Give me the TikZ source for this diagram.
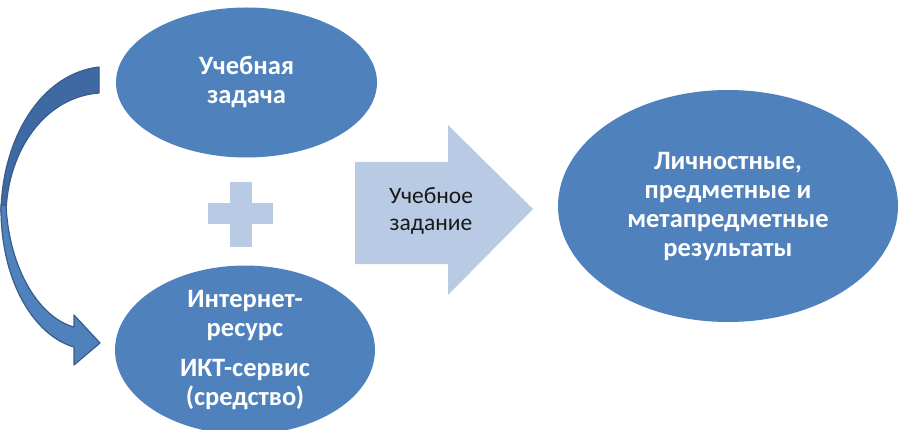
\documentclass[tikz,border=0pt]{standalone}
\usepackage{fontspec}
\setmainfont{Carlito}
\usetikzlibrary{shapes.geometric}
\definecolor{ellblue}{HTML}{4F81BD}
\definecolor{lightblue}{HTML}{B9CAE4}
\definecolor{darkblue}{HTML}{3E69A3}
\definecolor{edgeblue}{HTML}{385D8A}
\tikzset{
  oval/.style={ellipse, fill=ellblue, draw=none, text=white, align=center,
    font=\bfseries\fontsize{26.5}{29}\selectfont, inner sep=0pt},
  plusbar/.style={fill=lightblue, draw=none},
  bigarrow/.style={fill=lightblue, draw=none},
  ribbonback/.style={fill=darkblue, draw=edgeblue, line width=1.2pt, line join=round},
  ribbonfront/.style={fill=ellblue, draw=edgeblue, line width=1.2pt, line join=round},
  arrowtext/.style={align=center, font=\fontsize{23.5}{27}\selectfont, text=black!90}
}
\begin{document}
\begin{tikzpicture}[x=1pt,y=-1pt]
\useasboundingbox (0,0) rectangle (901,430);
% ellipses
\node[oval, minimum width=261pt, minimum height=150pt] (task) at (246.5,82.5) {Учебная\\задача};
\node[oval, minimum width=260pt, minimum height=153pt] (tool) at (245,350) {Интернет-\\ресурс\\[11pt]ИКТ-сервис\\(средство)};
\node[oval, minimum width=340pt, minimum height=232pt] (res) at (728,206) {Личностные,\\предметные и\\метапредметные\\результаты};
% plus sign
\coordinate (plus) at (241,214.5);
\fill[plusbar] (230,182) rectangle (252,247);
\fill[plusbar] (208,203) rectangle (273,224);
% big block arrow
\fill[bigarrow] (355,162) -- (448,162) -- (448,125) -- (533,209) -- (448,295) -- (448,264) -- (355,264) -- cycle;
\node[arrowtext] (assign) at (431,211) {Учебное\\задание};
% curved arrow from task to tool
\coordinate (cstart) at (99,80);
\coordinate (ctip) at (100,343);
\path[ribbonback] (99,67) .. controls (40,74) and (2,140) .. (1,212)
   -- (6,212) .. controls (8,150) and (45,97) .. (99,93) -- cycle;
\path[ribbonfront] (1,205) .. controls (0,282) and (35,336) .. (74,347)
   -- (74,365) -- (ctip) -- (74,315) -- (74,327)
   .. controls (40,318) and (9,270) .. (6,205) -- cycle;
\end{tikzpicture}
\end{document}
